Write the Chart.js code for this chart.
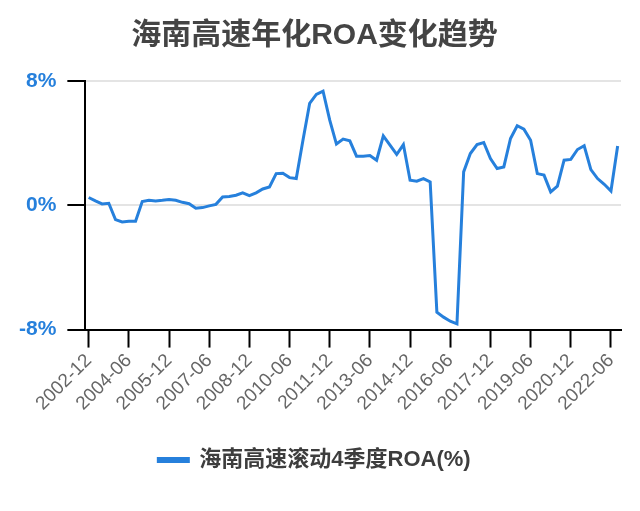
<!DOCTYPE html>
<html>
<head>
<meta charset="utf-8">
<script src="https://cdn.jsdelivr.net/npm/chart.js@4"></script>
<style>
  html, body { margin: 0; padding: 0; background: #fff; }
  #wrap { width: 640px; height: 511px; position: relative; }
</style>
</head>
<body>
<div id="wrap"><canvas id="c"></canvas></div>
<script>
// Quarterly periods 2002-12 .. 2022-09
const quarterLabels = [];
(function () {
  const months = ['03', '06', '09', '12'];
  let y = 2002, q = 3;
  for (let i = 0; i < 80; i++) {
    quarterLabels.push(y + '-' + months[q]);
    q++;
    if (q > 3) { q = 0; y++; }
  }
})();

const seriesName = '海南高速滚动4季度ROA(%)';
const roaValues = [
  0.50, 0.28, 0.09, 0.13, -0.92, -1.07, -1.03, -1.03, 0.24, 0.32,
  0.28, 0.32, 0.37, 0.32, 0.19, 0.10, -0.19, -0.15, -0.04, 0.06,
  0.54, 0.56, 0.65, 0.80, 0.62, 0.80, 1.05, 1.18, 2.04, 2.06,
  1.78, 1.72, 4.19, 6.56, 7.14, 7.35, 5.48, 3.94, 4.26, 4.15,
  3.16, 3.16, 3.20, 2.90, 4.47, 3.87, 3.27, 3.91, 1.61, 1.55,
  1.72, 1.50, -6.88, -7.20, -7.46, -7.63, 2.15, 3.33, 3.91, 4.04,
  3.01, 2.37, 2.47, 4.30, 5.12, 4.90, 4.19, 2.04, 1.94, 0.86,
  1.23, 2.90, 2.95, 3.59, 3.83, 2.30, 1.72, 1.35, 0.92, 3.81
];
const yTicks = [-8, 0, 8];
const titleText = '海南高速年化ROA变化趋势';

const FONT = '"Liberation Sans", "Noto Sans CJK SC", Arial, sans-serif';
const BLUE = '#2680dc';

new Chart(document.getElementById('c'), {
  type: 'line',
  data: {
    labels: quarterLabels,
    datasets: [{
      label: seriesName,
      data: roaValues,
      borderColor: BLUE,
      backgroundColor: BLUE,
      borderWidth: 3,
      pointRadius: 0,
      tension: 0,
      fill: false
    }]
  },
  options: {
    responsive: true,
    maintainAspectRatio: false,
    animation: false,
    layout: { padding: { left: 8, right: 19, top: 18, bottom: 30 } },
    plugins: {
      title: {
        display: true,
        text: titleText,
        color: '#444',
        font: { family: FONT, size: 30, weight: 'bold' },
        padding: { top: 0, bottom: 27 }
      },
      legend: {
        position: 'bottom',
        labels: {
          color: '#3d3d3d',
          font: { family: FONT, size: 22, weight: 'bold' },
          boxWidth: 30,
          boxHeight: 3,
          padding: 32
        }
      },
      tooltip: { enabled: false }
    },
    scales: {
      x: {
        offset: true,
        grid: {
          display: true,
          drawOnChartArea: false,
          drawTicks: true,
          tickLength: 18,
          tickColor: '#000',
          tickWidth: 2,
          offset: false
        },
        border: { color: '#000', width: 2 },
        ticks: {
          autoSkip: false,
          maxRotation: 45,
          minRotation: 45,
          color: '#666',
          font: { family: FONT, size: 19 },
          padding: 2,
          callback: function (v, i) { return i % 6 === 0 ? quarterLabels[i] : null; }
        }
      },
      y: {
        min: -8,
        max: 8,
        afterBuildTicks: function (axis) { axis.ticks = yTicks.map(v => ({ value: v })); },
        grid: {
          color: '#e4e4e4',
          lineWidth: 2,
          tickLength: 18,
          tickColor: '#000',
          tickWidth: 2
        },
        border: { color: '#000', width: 2 },
        ticks: {
          color: BLUE,
          font: { family: FONT, size: 21, weight: 'bold' },
          padding: 11,
          callback: function (v) { return v + '%'; }
        }
      }
    }
  }
});
</script>
</body>
</html>
